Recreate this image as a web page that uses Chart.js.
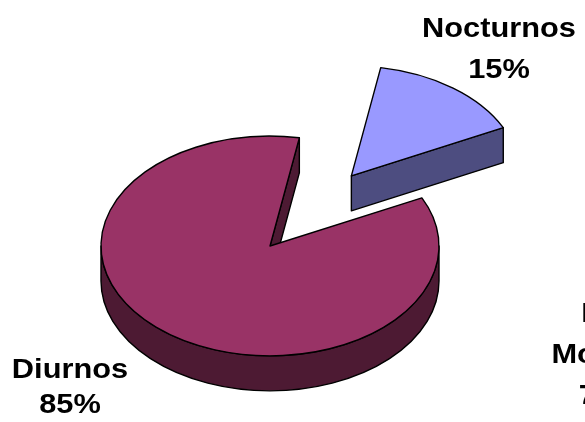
<!DOCTYPE html>
<html>
<head>
<meta charset="utf-8">
<script src="https://cdn.jsdelivr.net/npm/chart.js@4"></script>
<style>
  html, body { margin: 0; padding: 0; background: #fff; }
  #wrap { width: 585px; height: 422px; }
</style>
</head>
<body>
<div id="wrap"><canvas id="pie"></canvas></div>
<script>
// data
const categories = ['Diurnos', 'Nocturnos'];
const values = [85, 15];
const topColors = ['#993366', '#9999FF'];
const sideColors = ['#4D1A33', '#4D4D80'];
// third label, cut by the right edge of the picture
const extraLabel = ['En', 'Modos', '7%'];

const total = values.reduce((a, b) => a + b, 0);
const pctLabels = values.map((v) => Math.round(v / total * 100) + '%');

// 3D pie: squash the flat arcs into an ellipse and extrude them downwards
const pie3d = {
  id: 'pie3d',
  beforeDatasetsDraw(chart, args, opts) {
    const ctx = chart.ctx;
    const arcs = chart.getDatasetMeta(0).data;
    const slices = arcs.map((el, i) => {
      const mid = (el.startAngle + el.endAngle) / 2;
      const r = el.outerRadius;
      const ex = (opts.explode[i] || 0) * r;
      return {
        i,
        a0: el.startAngle,
        a1: el.endAngle,
        rx: r,
        ry: r * opts.tilt,
        cx: el.x + Math.cos(mid) * ex,
        cy: el.y + Math.sin(mid) * ex * opts.tilt,
      };
    });
    slices.sort((a, b) => a.cy - b.cy);

    const d = opts.depth;
    ctx.save();
    ctx.lineWidth = opts.lineWidth;
    ctx.strokeStyle = '#000';
    ctx.lineJoin = 'round';

    slices.forEach((s) => {
      const side = sideColors[s.i];
      const pt = (a) => [s.cx + s.rx * Math.cos(a), s.cy + s.ry * Math.sin(a)];

      // radial faces that look towards the viewer
      [[s.a0, s.a0 - Math.PI / 2], [s.a1, s.a1 + Math.PI / 2]].forEach(([a, n]) => {
        if (Math.sin(n) <= 0) return;
        const [x, y] = pt(a);
        ctx.beginPath();
        ctx.moveTo(s.cx, s.cy);
        ctx.lineTo(x, y);
        ctx.lineTo(x, y + d);
        ctx.lineTo(s.cx, s.cy + d);
        ctx.closePath();
        ctx.fillStyle = side;
        ctx.fill();
        ctx.stroke();
      });

      // front part of the rim
      for (let k = -1; k <= 1; k++) {
        const lo = Math.max(s.a0, k * 2 * Math.PI);
        const hi = Math.min(s.a1, k * 2 * Math.PI + Math.PI);
        if (hi <= lo) continue;
        const [x1, y1] = pt(hi);
        ctx.beginPath();
        ctx.ellipse(s.cx, s.cy, s.rx, s.ry, 0, lo, hi);
        ctx.lineTo(x1, y1 + d);
        ctx.ellipse(s.cx, s.cy + d, s.rx, s.ry, 0, hi, lo, true);
        ctx.closePath();
        ctx.fillStyle = side;
        ctx.fill();
        ctx.stroke();
      }

      // top face
      ctx.beginPath();
      ctx.moveTo(s.cx, s.cy);
      ctx.ellipse(s.cx, s.cy, s.rx, s.ry, 0, s.a0, s.a1);
      ctx.closePath();
      ctx.fillStyle = topColors[s.i];
      ctx.fill();
      ctx.stroke();
    });
    ctx.restore();
    return false;
  },
  afterDraw(chart, args, opts) {
    const ctx = chart.ctx;
    const lines = categories.map((c, i) => [c, pctLabels[i]]);
    lines.push(extraLabel);
    lines.forEach((txt, i) => {
      const p = opts.labelPos[i];
      ctx.save();
      ctx.translate(p.x, 0);
      ctx.scale(opts.stretch, 1);
      ctx.fillStyle = '#000';
      ctx.font = opts.font;
      ctx.textAlign = 'center';
      ctx.textBaseline = 'alphabetic';
      txt.forEach((t, j) => ctx.fillText(t, 0, p.y + j * p.step));
      ctx.restore();
    });
  },
};

new Chart(document.getElementById('pie'), {
  type: 'pie',
  data: {
    labels: categories,
    datasets: [{ data: values, backgroundColor: topColors, borderWidth: 0 }],
  },
  options: {
    responsive: true,
    maintainAspectRatio: false,
    animation: false,
    rotation: 64,
    layout: { padding: { left: 101, right: 146, top: 77, bottom: 7 } },
    plugins: {
      legend: { display: false },
      tooltip: { enabled: false },
      pie3d: {
        tilt: 0.65,
        depth: 35,
        explode: [0, 0.8],
        lineWidth: 1.4,
        font: 'bold 28.5px "Liberation Sans", Arial, sans-serif',
        stretch: 1.08,
        labelPos: [
          { x: 70, y: 378, step: 35 },
          { x: 499, y: 37, step: 41 },
          { x: 601, y: 322, step: 41 },
        ],
      },
    },
  },
  plugins: [pie3d],
});
</script>
</body>
</html>
